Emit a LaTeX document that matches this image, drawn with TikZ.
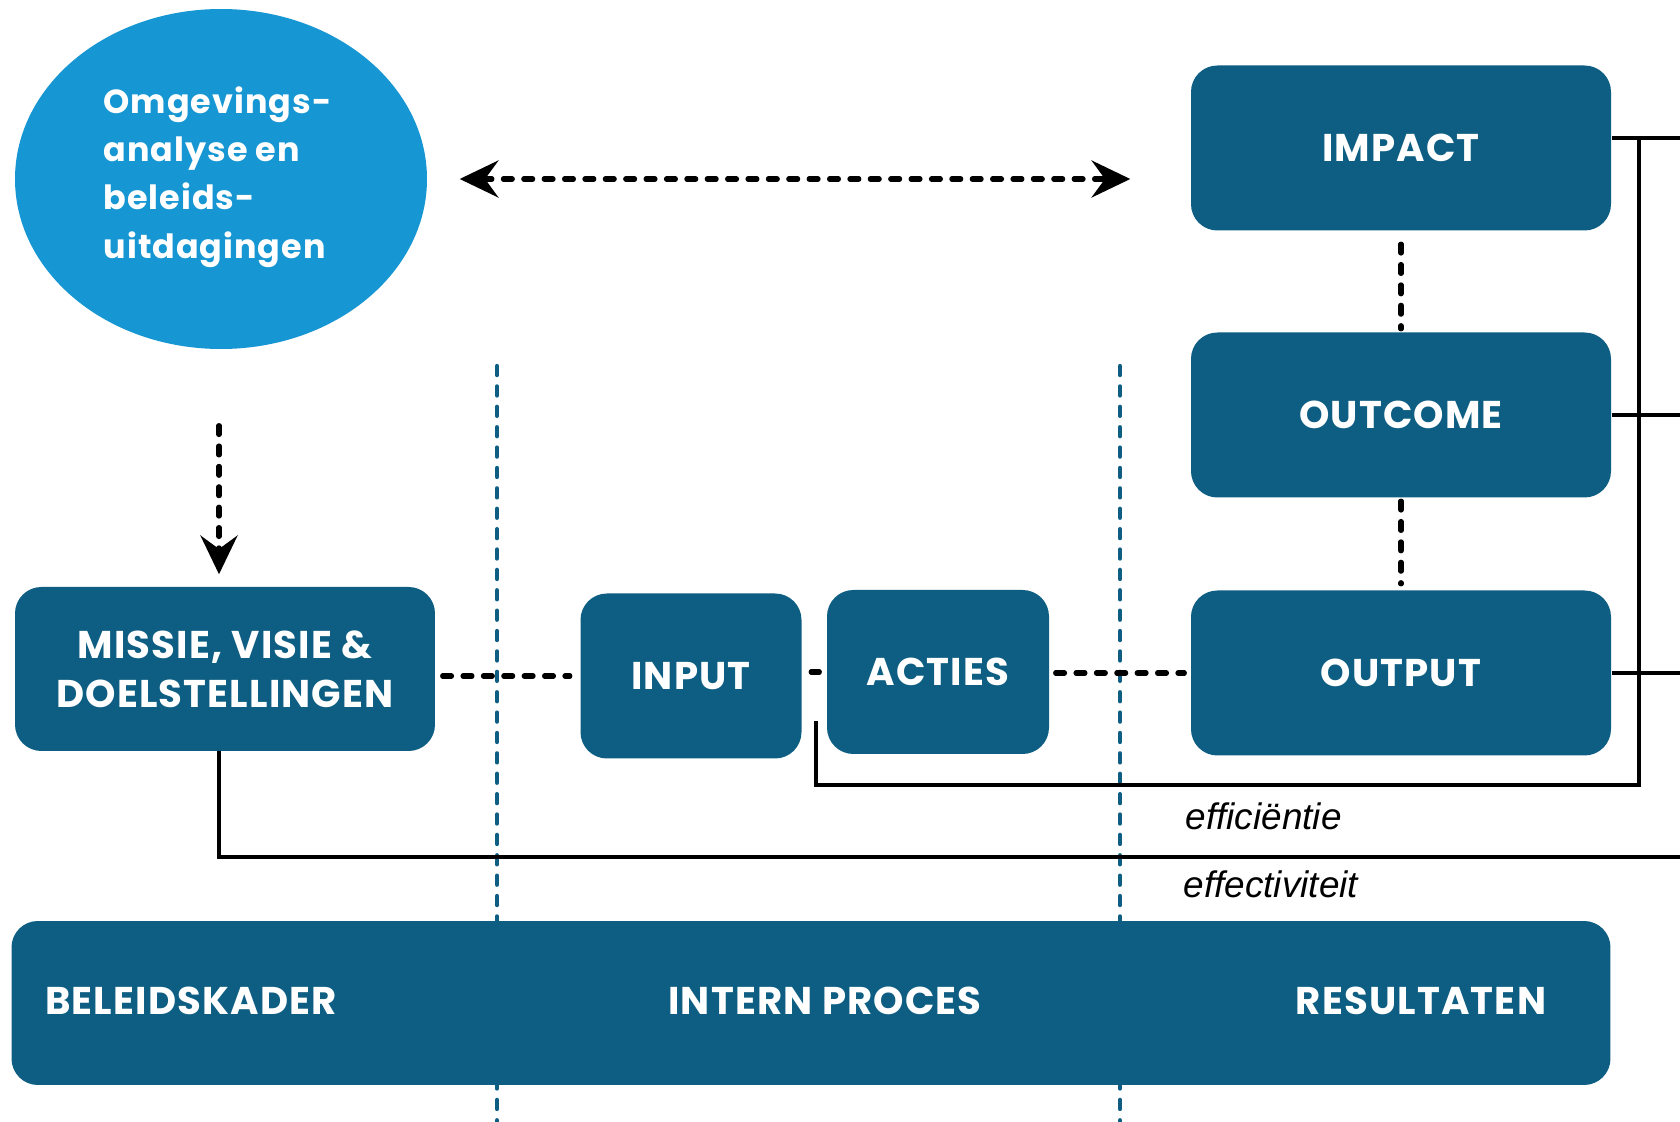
\documentclass[tikz,border=0pt]{standalone}
\usepackage{fontspec}
\setmainfont{Poppins}
\newfontfamily\boxfont{Poppins}[LetterSpace=3]
\newfontfamily\labelfont{Liberation Sans}
\usetikzlibrary{arrows.meta,shapes.geometric}
\definecolor{boxblue}{HTML}{0D5E82}
\definecolor{skyblue}{HTML}{1696D2}

\begin{document}
\begin{tikzpicture}[x=0.1mm,y=-0.1mm,>={Stealth[length=11pt,width=10.5pt,inset=3.8pt]},
  box/.style={rectangle,rounded corners=7.5pt,fill=boxblue,text=white,inner sep=0pt,align=center,
    font=\boxfont\bfseries\fontsize{11}{14}\selectfont},
  bartext/.style={text=white,inner sep=0pt,font=\boxfont\bfseries\fontsize{11}{14}\selectfont},
  dashline/.style={line width=1.5pt,line cap=round,dash pattern=on 2.5pt off 3.3pt},
  sepline/.style={boxblue,line width=1.2pt,line cap=round,dash pattern=on 2.6pt off 3.2pt},
  link/.style={line width=1.1pt},
  measure/.style={anchor=west,inner sep=0pt,font=\labelfont\itshape\fontsize{10.5}{12}\selectfont}]
  \useasboundingbox (0,0) rectangle (1680,1122);
  % kolomgrenzen
  \draw[sepline] (497,366) -- (497,1122);
  \draw[sepline] (1120,366) -- (1120,1122);

  \node[ellipse,fill=skyblue,minimum width=41.2mm,minimum height=34mm,inner sep=0pt] (omg) at (221,179) {};
  \node[anchor=west,inner sep=0pt,text=white,align=left,
    font=\boxfont\bfseries\fontsize{9.5}{13.7}\selectfont] (omgtext) at (103,177)
    {Omgevings-\\analyse en\\beleids-\\uitdagingen};
  \node[box,minimum width=42mm,minimum height=16.4mm] (missie) at (225,669) {MISSIE, VISIE \&\\DOELSTELLINGEN};
  \node[box,minimum width=22.1mm,minimum height=16.5mm] (input) at (691,676) {INPUT};
  \node[box,minimum width=22.2mm,minimum height=16.4mm] (acties) at (938,672) {ACTIES};
  \node[box,minimum width=42mm,minimum height=16.5mm] (output) at (1401,673) {OUTPUT};
  \node[box,minimum width=42mm,minimum height=16.5mm] (outcome) at (1401,415) {OUTCOME};
  \node[box,minimum width=42mm,minimum height=16.5mm] (impact) at (1401,148) {IMPACT};
  \node[box,minimum width=159.9mm,minimum height=16.4mm] (kader) at (811,1003) {};
  \node[bartext] (beleid) at (191,1001) {BELEIDSKADER};
  \node[bartext] (proces) at (825,1001) {INTERN PROCES};
  \node[bartext] (result) at (1421,1001) {RESULTATEN};

  % stippellijnen
  \draw[<->,dashline,shorten <=3.2mm,shorten >=6mm] (omg.east) -- (omg.east -| impact.west);
  \draw[->,dashline,shorten <=7.6mm,shorten >=1.2mm] ([xshift=-0.2mm]omg.south) -- ([xshift=-0.2mm]omg.south |- missie.north);
  \draw[dashline,shorten <=1.3mm,shorten >=0.3mm] (impact.south) -- (outcome.north);
  \draw[dashline,shorten <=0.3mm,shorten >=0.6mm] (outcome.south) -- (output.north);
  \draw[dashline,shorten <=0.7mm,shorten >=1mm] (missie.east |- input.west) -- (input.west);
  \draw[dashline,shorten <=0.9mm,shorten >=0.7mm] (input.east |- acties.west) -- (acties.west);
  \draw[dashline,shorten <=0.6mm,shorten >=0.6mm] (acties.east |- output.west) -- (output.west);

  % terugkoppeling
  \coordinate (rim) at (1680,0);
  \coordinate (bus) at (1639,0);
  \coordinate (imp) at ([yshift=1mm]impact.east);
  \coordinate (missiefoot) at (219,751);
  \coordinate (effcorner) at (816,785);
  \coordinate (effend) at (816,721);
  \draw[link] (imp) -- (imp -| rim);
  \draw[link] (outcome.east) -- (outcome.east -| rim);
  \draw[link] (output.east) -- (output.east -| rim);
  \draw[link] (imp -| bus) |- (effcorner) -- (effend);
  \draw[link] (missiefoot) |- (rim |- 0,857);
  \node[measure] (effic) at (1185,816) {efficiëntie};
  \node[measure] (effect) at (1183,884) {effectiviteit};
\end{tikzpicture}
\end{document}
